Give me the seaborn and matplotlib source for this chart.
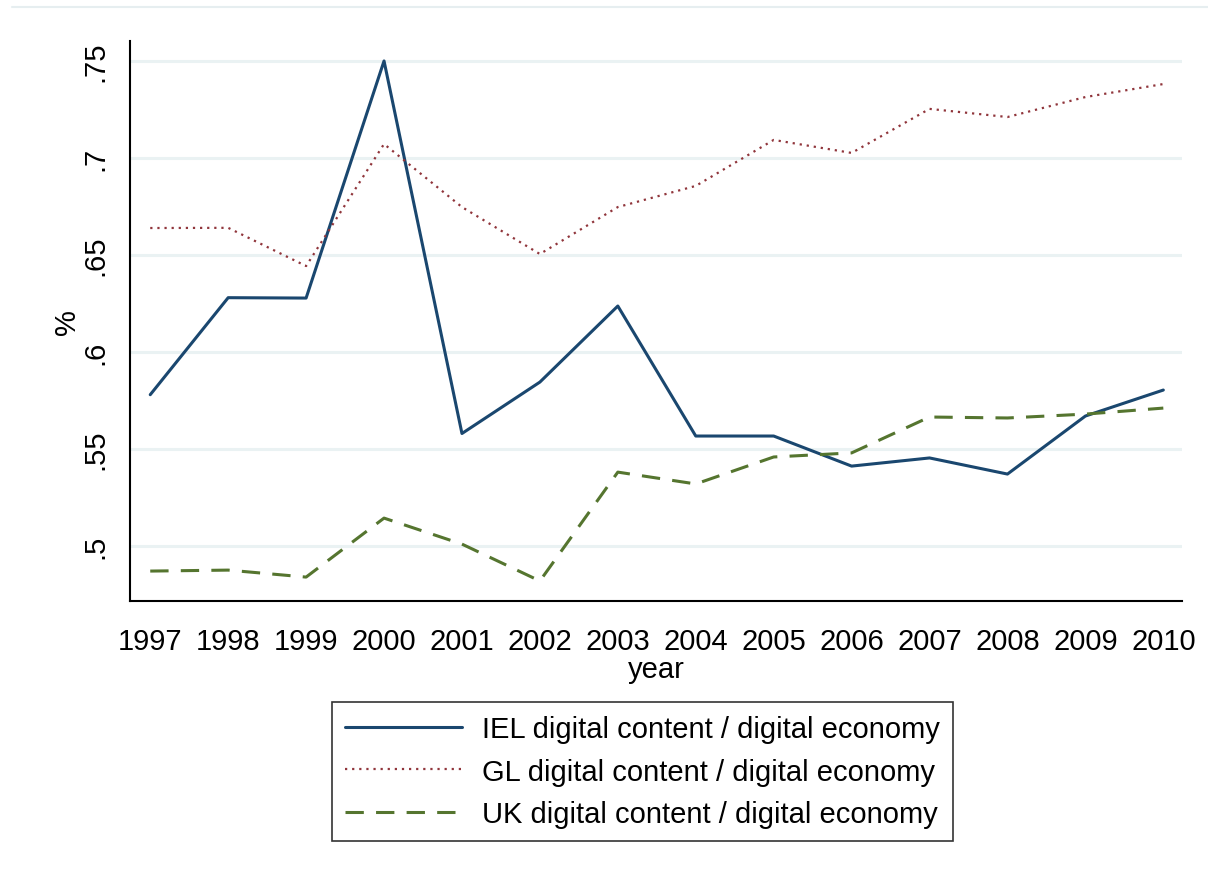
import pandas as pd
import seaborn as sns
import matplotlib.pyplot as plt
from matplotlib.lines import Line2D

# data
years = list(range(1997, 2011))
iel = [0.578, 0.628, 0.6278, 0.750, 0.558, 0.5845, 0.6237, 0.5567, 0.5567, 0.5412, 0.5454, 0.5371, 0.567, 0.5804]
gl = [0.6639, 0.664, 0.6443, 0.7072, 0.6747, 0.6505, 0.6747, 0.6856, 0.7093, 0.7026, 0.7253, 0.7211, 0.7314, 0.7381]
uk = [0.4871, 0.4876, 0.484, 0.5144, 0.501, 0.482, 0.5381, 0.532, 0.5459, 0.548, 0.5665, 0.566, 0.568, 0.5711]

labels = [
    "IEL digital content / digital economy",
    "GL digital content / digital economy",
    "UK digital content / digital economy",
]
y_ticks = [0.5, 0.55, 0.6, 0.65, 0.7, 0.75]
y_tick_labels = [".5", ".55", ".6", ".65", ".7", ".75"]

sns.set_theme(style="white")
plt.rcParams["font.family"] = ["Liberation Sans", "DejaVu Sans"]
plt.rcParams["text.color"] = "black"
plt.rcParams["axes.labelcolor"] = "black"
plt.rcParams["xtick.color"] = "black"
plt.rcParams["ytick.color"] = "black"

fig = plt.figure(figsize=(12.08, 8.78), dpi=100)
ax = fig.add_axes([0.1076, 0.3144, 0.8709, 0.6378])

# Stata s2color style
colors = ["#1a476f", "#90353b", "#55752f"]
styles = ["-", (0, (1, 2.2)), (0, (6, 4))]
widths = [2.2, 1.6, 2.2]

for vals, c, ls, lw in zip([iel, gl, uk], colors, styles, widths):
    sns.lineplot(x=years, y=vals, color=c, linestyle=ls, linewidth=lw, ax=ax)

ax.set_xlim(1996.74, 2010.24)
ax.set_ylim(0.4717, 0.7603)
ax.set_xticks(years)
ax.set_xticklabels([str(y) for y in years], fontsize=21)
ax.set_yticks(y_ticks)
ax.set_yticklabels(y_tick_labels, fontsize=21, rotation=90, va="center")

ax.grid(axis="y", color="#eaf2f3", linewidth=2.2)
ax.grid(axis="x", visible=False)
for s in ["top", "right"]:
    ax.spines[s].set_visible(False)
for s in ["left", "bottom"]:
    ax.spines[s].set_color("black")
    ax.spines[s].set_linewidth(1.5)

ax.tick_params(axis="both", direction="out", length=10, width=1.5, color="black")
ax.tick_params(axis="x", pad=9)
ax.tick_params(axis="y", pad=5)
ax.set_xlabel("year", fontsize=21, labelpad=0)
ax.set_ylabel("%", fontsize=21, labelpad=0)

handles = [Line2D([0], [0], color=c, linestyle=ls, linewidth=lw)
           for c, ls, lw in zip(colors, styles, widths)]
leg = fig.legend(handles, labels, loc="center", bbox_to_anchor=(0.532, 0.120),
                 fontsize=21, frameon=True, fancybox=False, handlelength=4.0,
                 labelspacing=0.5, borderpad=0.45, handletextpad=0.7)
leg.get_frame().set_edgecolor("black")
leg.get_frame().set_linewidth(1.2)

# faint line across top of graph region
fig.add_artist(Line2D([0.01, 1.0], [0.991, 0.991], color="#e6eef0", linewidth=1.5))

fig.savefig("out.png", dpi=100)
